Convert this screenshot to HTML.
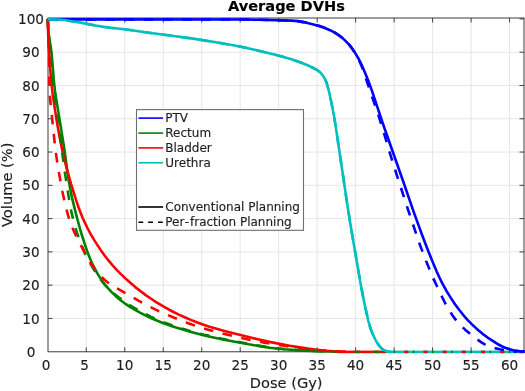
<!DOCTYPE html>
<html><head><meta charset="utf-8"><style>
html,body{margin:0;padding:0;background:#fff;}
svg{display:block;}
text{font-family:"DejaVu Sans","Liberation Sans",sans-serif;fill:#1e1e1e;stroke:#1e1e1e;stroke-width:0.15px;}
</style></head><body>
<svg width="525" height="391" viewBox="0 0 525 391">
<rect width="525" height="391" fill="#fff"/>
<g stroke="#e6e6e6" stroke-width="1"><line x1="86.28" y1="18.0" x2="86.28" y2="351.8"/><line x1="124.76" y1="18.0" x2="124.76" y2="351.8"/><line x1="163.24" y1="18.0" x2="163.24" y2="351.8"/><line x1="201.72" y1="18.0" x2="201.72" y2="351.8"/><line x1="240.20" y1="18.0" x2="240.20" y2="351.8"/><line x1="278.68" y1="18.0" x2="278.68" y2="351.8"/><line x1="317.16" y1="18.0" x2="317.16" y2="351.8"/><line x1="355.64" y1="18.0" x2="355.64" y2="351.8"/><line x1="394.12" y1="18.0" x2="394.12" y2="351.8"/><line x1="432.60" y1="18.0" x2="432.60" y2="351.8"/><line x1="471.08" y1="18.0" x2="471.08" y2="351.8"/><line x1="509.56" y1="18.0" x2="509.56" y2="351.8"/><line x1="48.0" y1="318.45" x2="524.0" y2="318.45"/><line x1="48.0" y1="285.17" x2="524.0" y2="285.17"/><line x1="48.0" y1="251.89" x2="524.0" y2="251.89"/><line x1="48.0" y1="218.61" x2="524.0" y2="218.61"/><line x1="48.0" y1="185.33" x2="524.0" y2="185.33"/><line x1="48.0" y1="152.05" x2="524.0" y2="152.05"/><line x1="48.0" y1="118.77" x2="524.0" y2="118.77"/><line x1="48.0" y1="85.49" x2="524.0" y2="85.49"/><line x1="48.0" y1="52.21" x2="524.0" y2="52.21"/></g>
<defs><clipPath id="ax"><rect x="46.0" y="16.0" width="480.0" height="337.8"/></clipPath></defs>
<g stroke="#444" stroke-width="1"><line x1="86.28" y1="351.8" x2="86.28" y2="347.3"/><line x1="86.28" y1="18.0" x2="86.28" y2="22.5"/><line x1="124.76" y1="351.8" x2="124.76" y2="347.3"/><line x1="124.76" y1="18.0" x2="124.76" y2="22.5"/><line x1="163.24" y1="351.8" x2="163.24" y2="347.3"/><line x1="163.24" y1="18.0" x2="163.24" y2="22.5"/><line x1="201.72" y1="351.8" x2="201.72" y2="347.3"/><line x1="201.72" y1="18.0" x2="201.72" y2="22.5"/><line x1="240.20" y1="351.8" x2="240.20" y2="347.3"/><line x1="240.20" y1="18.0" x2="240.20" y2="22.5"/><line x1="278.68" y1="351.8" x2="278.68" y2="347.3"/><line x1="278.68" y1="18.0" x2="278.68" y2="22.5"/><line x1="317.16" y1="351.8" x2="317.16" y2="347.3"/><line x1="317.16" y1="18.0" x2="317.16" y2="22.5"/><line x1="355.64" y1="351.8" x2="355.64" y2="347.3"/><line x1="355.64" y1="18.0" x2="355.64" y2="22.5"/><line x1="394.12" y1="351.8" x2="394.12" y2="347.3"/><line x1="394.12" y1="18.0" x2="394.12" y2="22.5"/><line x1="432.60" y1="351.8" x2="432.60" y2="347.3"/><line x1="432.60" y1="18.0" x2="432.60" y2="22.5"/><line x1="471.08" y1="351.8" x2="471.08" y2="347.3"/><line x1="471.08" y1="18.0" x2="471.08" y2="22.5"/><line x1="509.56" y1="351.8" x2="509.56" y2="347.3"/><line x1="509.56" y1="18.0" x2="509.56" y2="22.5"/><line x1="48.0" y1="318.45" x2="52.5" y2="318.45"/><line x1="524.0" y1="318.45" x2="519.5" y2="318.45"/><line x1="48.0" y1="285.17" x2="52.5" y2="285.17"/><line x1="524.0" y1="285.17" x2="519.5" y2="285.17"/><line x1="48.0" y1="251.89" x2="52.5" y2="251.89"/><line x1="524.0" y1="251.89" x2="519.5" y2="251.89"/><line x1="48.0" y1="218.61" x2="52.5" y2="218.61"/><line x1="524.0" y1="218.61" x2="519.5" y2="218.61"/><line x1="48.0" y1="185.33" x2="52.5" y2="185.33"/><line x1="524.0" y1="185.33" x2="519.5" y2="185.33"/><line x1="48.0" y1="152.05" x2="52.5" y2="152.05"/><line x1="524.0" y1="152.05" x2="519.5" y2="152.05"/><line x1="48.0" y1="118.77" x2="52.5" y2="118.77"/><line x1="524.0" y1="118.77" x2="519.5" y2="118.77"/><line x1="48.0" y1="85.49" x2="52.5" y2="85.49"/><line x1="524.0" y1="85.49" x2="519.5" y2="85.49"/><line x1="48.0" y1="52.21" x2="52.5" y2="52.21"/><line x1="524.0" y1="52.21" x2="519.5" y2="52.21"/><line x1="48.0" y1="18.93" x2="52.5" y2="18.93"/><line x1="524.0" y1="18.93" x2="519.5" y2="18.93"/></g>
<rect x="48.0" y="18.0" width="476.0" height="333.8" fill="none" stroke="#262626" stroke-width="0.9"/>
<rect x="337.2" y="350.6" width="48.8" height="2.6" fill="#ff0000"/><rect x="386.0" y="350.6" width="138.0" height="2.6" fill="#00bfbf"/><rect x="354.6" y="350.6" width="5.6" height="2.6" fill="#008000"/><rect x="373.8" y="350.6" width="5.6" height="2.6" fill="#008000"/><rect x="393.6" y="350.6" width="1.5" height="2.6" fill="#008000"/><rect x="404.2" y="350.6" width="4.1" height="2.6" fill="#ff0000"/><rect x="412.8" y="350.6" width="1.5" height="2.6" fill="#008000"/><rect x="423.4" y="350.6" width="4.1" height="2.6" fill="#ff0000"/><rect x="432.0" y="350.6" width="1.5" height="2.6" fill="#008000"/><rect x="442.6" y="350.6" width="4.1" height="2.6" fill="#ff0000"/><rect x="451.2" y="350.6" width="1.5" height="2.6" fill="#008000"/><rect x="461.8" y="350.6" width="4.1" height="2.6" fill="#ff0000"/><rect x="470.4" y="350.6" width="1.5" height="2.6" fill="#008000"/><rect x="481.0" y="350.6" width="4.1" height="2.6" fill="#ff0000"/><rect x="489.6" y="350.6" width="1.5" height="2.6" fill="#008000"/><rect x="500.2" y="350.6" width="4.1" height="2.6" fill="#ff0000"/><rect x="508.8" y="350.6" width="1.5" height="2.6" fill="#008000"/><rect x="519.4" y="350.6" width="4.1" height="2.6" fill="#ff0000"/>
<g fill="none" stroke-width="2.6" stroke-linejoin="round" clip-path="url(#ax)">
<path d="M47.8,19.4 L241.8,19.5 L258.2,19.8 L291.7,20.6 L297.7,21.1 L303.6,22.1 L311.5,23.9 L319.2,26.0 L324.9,28.0 L330.0,30.2 L334.8,32.7 L338.6,35.1 L342.6,38.1 L346.2,41.6 L349.3,44.9 L352.3,48.8 L355.7,53.8 L358.7,59.0 L361.6,64.8 L364.4,71.2 L368.0,80.0 L371.8,90.4 L383.0,124.0 L403.4,182.0 L414.3,213.7 L422.0,234.8 L427.9,250.2 L433.4,263.7 L436.7,271.6 L439.2,277.0 L441.6,282.0 L446.6,291.1 L450.8,297.9 L455.0,304.2 L459.5,310.3 L464.2,316.1 L467.5,319.8 L471.7,324.1 L478.3,330.2 L482.9,334.1 L487.3,337.3 L497.4,343.8 L501.3,346.0 L504.5,347.5 L508.7,349.0 L513.5,350.2 L519.0,351.1 L525.0,351.6" stroke="#0000ff"/>
<path d="M47.8,18.9 L48.2,26.4 L48.7,33.4 L49.3,37.9 L50.9,48.2 L51.6,53.7 L53.8,80.1 L55.0,91.0 L56.2,98.9 L59.2,117.2 L64.2,148.3 L68.7,180.4 L70.2,188.8 L72.0,197.6 L75.9,213.6 L80.6,231.0 L85.0,244.8 L87.1,251.0 L89.2,256.6 L91.2,261.2 L93.3,265.7 L95.6,270.2 L97.8,274.1 L100.2,277.9 L102.8,281.7 L105.1,284.8 L108.0,288.2 L111.4,291.9 L114.7,295.1 L118.4,298.5 L121.9,301.3 L125.9,304.2 L130.0,306.9 L134.7,309.7 L140.0,312.6 L145.4,315.4 L151.4,318.2 L157.4,320.8 L163.4,323.2 L169.5,325.4 L176.1,327.6 L190.1,331.7 L206.5,335.9 L224.1,339.7 L234.9,341.8 L254.1,345.2 L262.5,346.6 L269.9,347.7 L276.4,348.5 L283.8,349.2 L303.8,350.6 L320.3,351.3 L340.2,351.7" stroke="#008000"/>
<path d="M47.8,18.9 L48.2,35.9 L48.9,49.4 L50.7,75.3 L51.6,84.7 L52.5,92.7 L55.1,110.5 L57.4,124.8 L59.3,135.6 L62.8,152.7 L66.5,167.8 L71.1,184.1 L76.5,201.4 L78.6,207.5 L80.7,213.1 L82.8,218.2 L85.1,223.1 L87.7,228.5 L90.8,234.3 L94.1,239.9 L97.6,245.4 L101.2,250.8 L105.0,256.0 L108.7,260.7 L112.6,265.3 L116.7,269.8 L120.9,274.1 L125.2,278.2 L130.0,282.5 L135.3,287.1 L140.5,291.1 L145.7,295.1 L151.1,298.8 L156.1,302.1 L161.2,305.2 L166.8,308.4 L172.5,311.5 L178.3,314.4 L184.7,317.3 L190.7,319.9 L196.8,322.3 L202.9,324.5 L209.5,326.7 L216.6,328.8 L224.4,331.0 L250.5,337.6 L261.2,340.1 L270.5,342.1 L289.7,345.7 L307.9,348.6 L316.9,349.7 L326.8,350.8 L333.3,351.3 L340.2,351.7" stroke="#ff0000"/>
<path d="M47.8,19.4 L59.3,19.6 L66.2,20.3 L80.6,22.6 L95.3,25.5 L103.7,26.9 L110.6,27.8 L126.5,29.5 L145.3,32.3 L170.0,35.5 L191.3,38.4 L216.0,42.2 L237.2,46.0 L247.9,48.2 L272.3,53.9 L281.9,56.5 L291.5,59.3 L301.4,62.8 L308.8,65.8 L313.3,68.0 L316.4,69.7 L318.5,71.0 L320.4,72.6 L322.0,74.4 L323.7,76.8 L325.4,79.9 L326.7,83.1 L327.8,87.0 L329.3,92.8 L332.5,107.9 L334.2,117.3 L335.8,127.1 L347.8,207.7 L350.7,226.0 L360.9,285.5 L364.9,305.7 L368.2,320.3 L370.2,327.5 L372.5,333.6 L374.2,337.2 L375.7,340.3 L377.5,343.3 L378.9,345.4 L381.1,348.0 L382.7,349.3 L383.9,350.0 L385.2,350.6 L387.1,351.2 L391.0,351.7" stroke="#00bfbf"/>
<path d="M47.8,19.4 L241.7,19.5 L258.2,19.8 L291.6,20.6 L297.6,21.1 L303.5,22.1 L311.4,23.9 L319.6,26.1 L325.3,28.1 L330.3,30.3 L335.2,32.9 L338.9,35.3 L342.5,38.1 L345.8,41.1 L348.9,44.4 L351.7,47.9 L354.5,52.0 L357.0,56.4 L359.5,61.3 L361.7,66.3 L363.8,71.9 L368.3,85.7 L378.7,116.0 L382.1,126.9 L389.8,152.8 L397.3,176.6 L408.1,209.9 L419.8,244.5 L426.0,260.8 L432.3,276.1 L435.8,283.8 L441.4,295.6 L444.6,302.0 L447.4,307.3 L450.5,312.4 L453.5,316.9 L456.5,320.8 L459.8,324.5 L464.9,329.4 L471.0,334.6 L476.5,339.0 L481.4,342.4 L484.4,344.2 L487.5,345.8 L490.7,347.0 L494.1,348.0 L499.9,349.3 L507.3,350.7 L511.8,351.3 L517.3,351.7" stroke="#0000ff" stroke-dasharray="9.6 9.6"/>
<path d="M47.8,18.9 L48.1,27.4 L48.6,35.9 L49.1,39.9 L50.5,49.3 L51.1,54.2 L53.1,80.2 L54.2,90.6 L58.1,118.3 L61.8,149.6 L64.8,171.9 L68.8,197.6 L70.3,206.0 L71.6,212.9 L74.0,223.0 L76.9,232.6 L80.7,243.0 L84.9,253.2 L86.8,257.2 L88.9,261.2 L94.0,269.8 L99.3,277.8 L101.7,281.0 L103.9,283.6 L107.3,287.3 L110.9,290.8 L115.1,294.4 L119.4,297.9 L123.8,301.1 L128.7,304.4 L133.8,307.6 L139.5,310.8 L144.8,313.7 L150.7,316.6 L156.2,319.1 L161.7,321.5 L167.7,323.8 L173.8,326.0 L180.5,328.1 L187.7,330.3 L195.9,332.6 L204.1,334.7 L220.7,338.4 L232.5,340.8 L254.6,345.0 L263.0,346.4 L269.9,347.5 L276.4,348.3 L283.8,349.0 L303.8,350.6 L319.8,351.3 L340.2,351.7" stroke="#008000" stroke-dasharray="9.6 9.6"/>
<path d="M47.8,18.9 L48.2,34.9 L49.1,51.4 L49.4,85.4 L49.6,91.4 L50.0,97.9 L53.9,135.7 L55.9,153.1 L57.3,162.5 L58.8,171.9 L62.5,192.0 L65.3,204.8 L67.9,214.9 L70.5,222.9 L73.7,230.8 L76.2,236.2 L79.4,242.5 L85.5,254.1 L88.9,260.2 L91.2,264.1 L93.5,267.4 L96.2,270.9 L98.8,274.0 L101.9,277.3 L104.8,280.0 L108.3,282.7 L112.0,285.3 L117.6,288.7 L131.5,296.7 L139.3,301.1 L146.9,305.1 L153.1,308.3 L159.4,311.4 L166.2,314.4 L173.6,317.5 L187.6,323.0 L194.7,325.5 L201.3,327.6 L209.0,329.9 L217.2,332.2 L234.2,336.4 L254.7,340.8 L264.5,342.7 L273.9,344.3 L295.6,347.6 L312.0,349.6 L322.0,350.5 L332.0,351.2 L339.4,351.5 L347.9,351.7" stroke="#ff0000" stroke-dasharray="9.6 9.6"/>
<path d="M47.8,19.4 L59.3,19.6 L66.2,20.3 L80.6,22.6 L95.3,25.5 L103.7,26.9 L110.6,27.8 L126.5,29.5 L145.3,32.3 L170.0,35.5 L191.3,38.4 L216.0,42.2 L237.2,46.0 L247.9,48.2 L272.3,53.9 L281.9,56.5 L291.5,59.3 L301.4,62.8 L308.8,65.8 L313.3,68.0 L316.4,69.7 L318.5,71.0 L320.4,72.6 L322.0,74.4 L323.7,76.8 L325.4,79.9 L326.7,83.1 L327.8,87.0 L329.3,92.8 L332.5,107.9 L334.2,117.3 L335.8,127.1 L347.8,207.7 L350.7,226.0 L360.9,285.5 L364.9,305.7 L368.2,320.3 L370.2,327.5 L372.5,333.6 L374.2,337.2 L375.7,340.3 L377.5,343.3 L378.9,345.4 L381.1,348.0 L382.7,349.3 L383.9,350.0 L385.2,350.6 L387.1,351.2 L391.0,351.7" stroke="#00bfbf" stroke-dasharray="9.6 9.6"/>
</g>
<g font-size="13.6" style="fill:#262626"><text x="46.20" y="369.8" text-anchor="middle">0</text><text x="84.68" y="369.8" text-anchor="middle">5</text><text x="124.76" y="369.8" text-anchor="middle">10</text><text x="163.24" y="369.8" text-anchor="middle">15</text><text x="201.72" y="369.8" text-anchor="middle">20</text><text x="240.20" y="369.8" text-anchor="middle">25</text><text x="278.68" y="369.8" text-anchor="middle">30</text><text x="317.16" y="369.8" text-anchor="middle">35</text><text x="355.64" y="369.8" text-anchor="middle">40</text><text x="394.12" y="369.8" text-anchor="middle">45</text><text x="432.60" y="369.8" text-anchor="middle">50</text><text x="471.08" y="369.8" text-anchor="middle">55</text><text x="509.56" y="369.8" text-anchor="middle">60</text><text x="31" y="356.83" text-anchor="middle">0</text><text x="31" y="323.55" text-anchor="middle">10</text><text x="31" y="290.27" text-anchor="middle">20</text><text x="31" y="256.99" text-anchor="middle">30</text><text x="31" y="223.71" text-anchor="middle">40</text><text x="31" y="190.43" text-anchor="middle">50</text><text x="31" y="157.15" text-anchor="middle">60</text><text x="31" y="123.87" text-anchor="middle">70</text><text x="31" y="90.59" text-anchor="middle">80</text><text x="31" y="57.31" text-anchor="middle">90</text><text x="31" y="24.03" text-anchor="middle">100</text></g>
<text x="286.2" y="388.2" font-size="14.6" text-anchor="middle">Dose (Gy)</text>
<text transform="translate(12.4,184.8) rotate(-90)" font-size="14.65" text-anchor="middle">Volume (%)</text>
<text x="286.4" y="11.3" font-size="14.6" font-weight="bold" text-anchor="middle" style="fill:#000">Average DVHs</text>
<g font-size="12.0"><rect x="136.5" y="109.6" width="167.0" height="120.7" fill="#fff" stroke="#6e6e6e" stroke-width="1.1"/><line x1="138.4" y1="118.1" x2="163.1" y2="118.1" stroke="#0000ff" stroke-width="1.6"/><text x="165.3" y="122.1">PTV</text><line x1="138.4" y1="133.1" x2="163.1" y2="133.1" stroke="#008000" stroke-width="1.6"/><text x="165.3" y="137.1">Rectum</text><line x1="138.4" y1="147.9" x2="163.1" y2="147.9" stroke="#ff0000" stroke-width="1.6"/><text x="165.3" y="151.9">Bladder</text><line x1="138.4" y1="162.8" x2="163.1" y2="162.8" stroke="#00bfbf" stroke-width="1.6"/><text x="165.3" y="166.8">Urethra</text><line x1="138.4" y1="207.0" x2="163.1" y2="207.0" stroke="#000" stroke-width="1.6"/><text x="165.3" y="211.0">Conventional Planning</text><line x1="138.4" y1="222.3" x2="163.1" y2="222.3" stroke="#000" stroke-width="1.6" stroke-dasharray="4.8 5.0"/><text x="165.3" y="226.3">Per<tspan dx="1.0">-</tspan><tspan dx="1.0">fraction Planning</tspan></text></g>
</svg>
</body></html>
